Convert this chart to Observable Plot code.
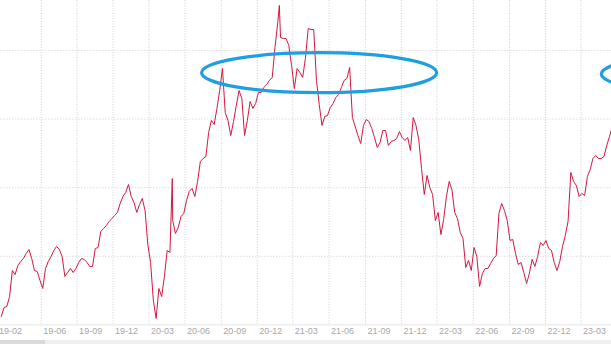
<!DOCTYPE html>
<html><head><meta charset="utf-8">
<script src="https://cdn.jsdelivr.net/npm/d3@7"></script>
<script src="https://cdn.jsdelivr.net/npm/@observablehq/plot@0.6"></script>
<style>
html,body{margin:0;padding:0;background:#fff;overflow:hidden}
#chart svg{display:block}
#scroll{position:relative;width:611px;height:4px;background:#efefef}
#thumb{position:absolute;left:0;top:0;width:45px;height:4px;background:#dadada}
</style></head><body>
<div id="chart"></div>
<div id="scroll"><div id="thumb"></div></div>
<script>
// Weekly closes (Fridays) starting from weekStart
const weekStart = "2019-02-22";
const weeklyClose = [
  11.23,12.54,12.68,14.14,17.93,17.35,18.66,19.24,19.68,20.41,
  20.99,19.68,17.93,17.79,16.47,15.31,18.22,19.24,19.97,20.85,
  21.43,20.99,19.97,17.06,17.64,18.22,17.64,18.22,19.10,19.68,
  19.54,19.10,18.52,18.52,21.14,21.28,23.62,24.05,24.49,25.07,
  25.51,25.95,26.39,27.70,28.72,29.30,30.47,28.72,27.84,26.39,
  27.55,28.43,26.68,21.72,19.10,13.56,10.94,15.31,14.14,17.06,
  20.85,20.56,25.22,23.33,24.20,25.80,26.24,28.14,29.45,29.89,
  28.72,30.91,33.82,34.26,34.55,38.05,39.80,39.21,41.55,44.17,
  47.38,40.96,39.80,37.61,39.65,41.98,44.17,43.00,37.61,39.80,
  42.57,41.55,42.28,43.88,43.88,44.61,45.05,45.63,46.07,50.44,
  54.08,51.90,51.75,51.75,50.73,47.81,44.46,47.38,46.79,46.07,
  48.84,53.21,53.06,53.06,45.63,42.13,39.07,40.38,40.53,41.69,
  42.28,43.15,43.59,44.61,45.63,45.92,47.52,40.23,38.92,37.61,
  36.44,39.07,39.94,39.65,38.63,37.32,35.86,36.59,38.34,38.34,
  36.15,36.74,36.88,37.17,38.19,37.32,36.88,37.32,35.42,40.23,
  39.07,37.03,32.80,29.01,31.78,30.03,29.01,25.22,26.39,23.18,
  25.37,28.72,30.91,29.74,26.39,25.51,23.47,22.60,18.37,19.39,
  17.93,21.28,19.97,15.60,17.49,18.22,18.22,18.95,19.68,20.12,
  26.24,27.70,26.68,25.22,22.31,22.45,20.41,18.81,19.10,17.64,
  16.04,17.49,19.54,18.52,19.97,22.01,21.58,22.31,21.14,20.85,
  19.10,17.93,19.24,21.43,23.03,25.07,32.22,30.91,30.32,28.72,
  29.16,28.86,31.63,32.65,34.26,34.70,34.26,34.26,34.55,36.15,
  37.47,38.92
];
// Intra-week extremes (single-day spikes)
const spikeDates = ["2020-04-30", "2021-01-26"];
const spikeValues = [31.34, 56.56];

// X axis ticks (first trading day of month)
const tickDates = ["2019-02-11","2019-06-03","2019-09-02","2019-12-02","2020-03-02","2020-06-01",
  "2020-09-01","2020-12-01","2021-03-01","2021-06-01","2021-09-01","2021-12-01",
  "2022-03-01","2022-06-01","2022-09-01","2022-12-01","2023-03-01"];
const tickLabels = ["19-02","19-06","19-09","19-12","20-03","20-06","20-09","20-12",
  "21-03","21-06","21-09","21-12","22-03","22-06","22-09","22-12","23-03"];
const gridValues = [20, 30, 40, 50];
const baseValue = 10;
const xDomain = ["2019-02-20", "2023-05-17"];
const yDomain = [10, 57.29];

// Annotation ellipses (centers in data coords)
const ellipseDates = ["2021-05-08", "2024-02-14"];
const ellipseValues = [46.69, 46.5];

const parse = d3.utcParse("%Y-%m-%d");
const start = parse(weekStart);
const data = weeklyClose.map((v, i) => ({date: d3.utcDay.offset(start, 7 * i), value: v}))
  .concat(spikeDates.map((d, i) => ({date: parse(d), value: spikeValues[i]})))
  .sort((a, b) => a.date - b.date);
const ticks = tickDates.map(parse);

const plot = Plot.plot({
  width: 611,
  height: 340,
  marginTop: 0,
  marginBottom: 15.6,
  marginLeft: 0,
  marginRight: 0,
  style: "display:block;overflow:visible;background:#fff;font-family:'Liberation Sans',Arial,sans-serif;",
  x: {type: "utc", domain: xDomain.map(parse), axis: null},
  y: {domain: yDomain, axis: null},
  marks: [
    Plot.ruleY(gridValues, {stroke: "#dedede", strokeDasharray: "1.5,1.5"}),
    Plot.ruleY([baseValue], {stroke: "#e4e4e4"}),
    Plot.ruleX(ticks, {stroke: "#cdcdcd", strokeDasharray: "1,1.6"}),
    Plot.text(ticks, {x: d => d, text: (d, i) => tickLabels[i], frameAnchor: "bottom", dy: 8.6,
      dx: 2, textAnchor: "start", fill: "#a8a8a8", fontSize: 9}),
    Plot.line(data, {x: "date", y: "value", stroke: "#d3173f", strokeWidth: 1})
  ]
});
document.getElementById("chart").appendChild(plot);

const xs = plot.scale("x"), ys = plot.scale("y");
const svg = d3.select(plot);
ellipseDates.forEach((d, i) => {
  svg.append("ellipse")
    .attr("cx", xs.apply(parse(d)))
    .attr("cy", ys.apply(ellipseValues[i]))
    .attr("rx", 117.5)
    .attr("ry", 20)
    .attr("fill", "none")
    .attr("stroke", "#1f9fe2")
    .attr("stroke-width", 3.2);
});
</script>
</body></html>
